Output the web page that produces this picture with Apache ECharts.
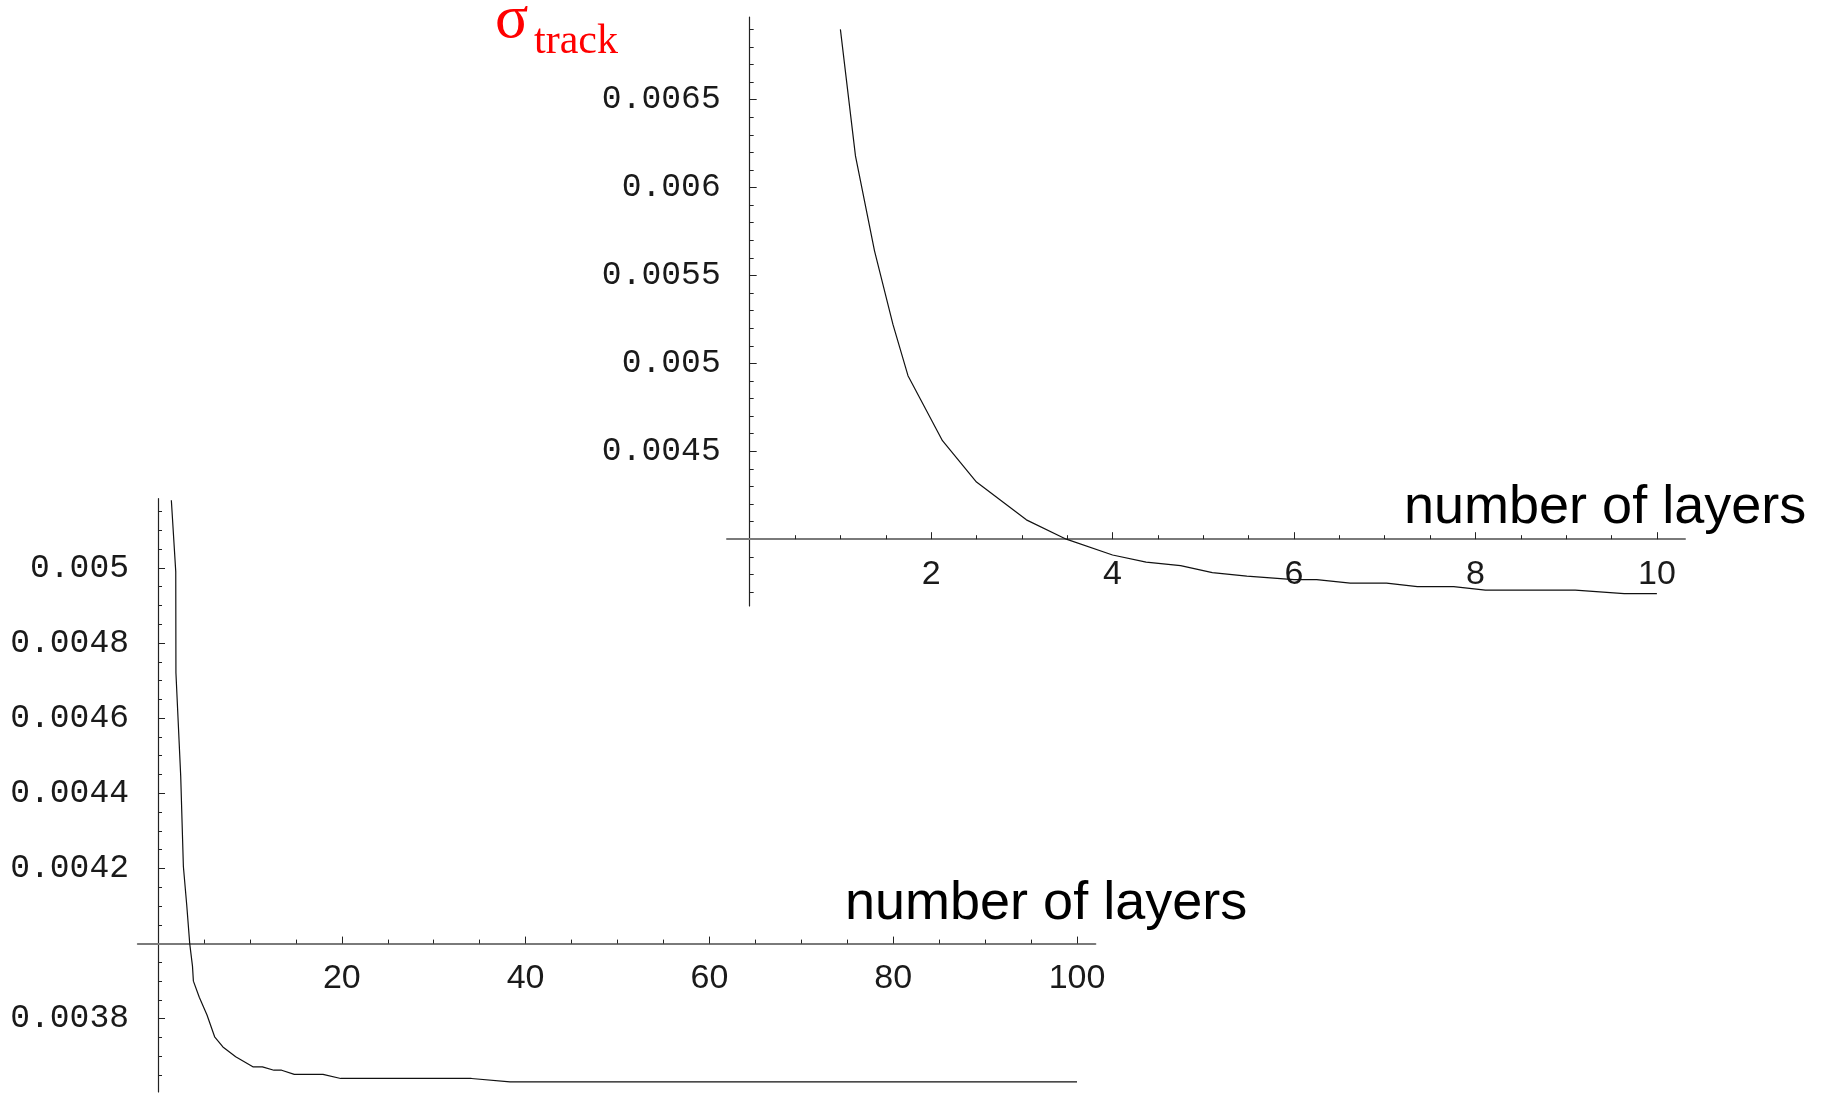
<!DOCTYPE html>
<html><head><meta charset="utf-8">
<script src="https://cdn.jsdelivr.net/npm/echarts@6/dist/echarts.min.js"></script>
<style>html,body{margin:0;padding:0;background:#fff}#c{width:1827px;height:1093px}</style>
</head><body><div id="c"></div>
<script>
// ---- data: sigma_track vs number of layers ----
const topX = [1.0, 1.166, 1.376, 1.58, 1.745, 2.125, 2.5, 3.05, 3.49, 4.0, 4.37, 4.75, 5.1, 5.48, 6.0, 6.25, 6.62, 7.02, 7.36, 7.76, 8.11, 9.1, 9.64, 10.0];
const topY = [0.00690, 0.00618, 0.00564, 0.00522, 0.00493, 0.00456, 0.004325, 0.00411, 0.00400, 0.00391, 0.00387, 0.00385, 0.00381, 0.00379, 0.00377, 0.00377, 0.00375, 0.00375, 0.00373, 0.00373, 0.00371, 0.00371, 0.00369, 0.00369];
const botX = [1.45, 1.93, 1.95, 2.47, 2.76, 3.12, 3.45, 3.75, 3.85, 4.49, 5.33, 6.16, 7.06, 8.45, 10.32, 11.36, 12.61, 13.45, 14.83, 17.95, 19.88, 34.1, 38.3, 100];
const botY = [0.00518, 0.00499, 0.00472, 0.004445, 0.004205, 0.004104, 0.0040, 0.00394, 0.0039, 0.003857, 0.00381, 0.003752, 0.003725, 0.003699, 0.003672, 0.003672, 0.003663, 0.003663, 0.003652, 0.003652, 0.003641, 0.003641, 0.003632, 0.003632];

// ---- tick labels ----
const topXLabels = [2, 4, 6, 8, 10];
const topYLabels = [0.0045, 0.005, 0.0055, 0.006, 0.0065];
const botXLabels = [20, 40, 60, 80, 100];
const botYLabels = [0.0038, 0.0042, 0.0044, 0.0046, 0.0048, 0.005];
const xTitle = 'number of layers';

function steps(from, to, step, exclude) {
  const out = [];
  const n = Math.round((to - from) / step);
  for (let i = 0; i <= n; i++) {
    const v = +(from + i * step).toPrecision(10);
    if (!exclude.some(e => Math.abs(e - v) < step * 1e-3)) out.push(v);
  }
  return out;
}
const topXMinor = steps(0.5, 10, 0.5, topXLabels);
const topYMinor = steps(0.0037, 0.0069, 0.0001, topYLabels.concat([0.004]));
const botXMinor = steps(5, 100, 5, botXLabels);
const botYMinor = steps(0.00365, 0.00515, 0.00005, botYLabels.concat([0.004]));

// ---- layout ----
const P1 = {left: 727, top: 17, width: 958, height: 589, xMin: -0.25, xMax: 10.31, yMin: 0.00362, yMax: 0.00697};
const P2 = {left: 137.8, top: 498.7, width: 957.6, height: 593.3, xMin: -2.2, xMax: 102, yMin: 0.003605, yMax: 0.005184};
const crossY = 0.004, crossX = 0;

const yLabelFont = {fontFamily: 'Liberation Mono', fontSize: 33, color: '#1a1a1a'};
const xLabelFont = {fontFamily: 'Liberation Sans', fontSize: 34, color: '#1a1a1a'};

function axesFor(P, gi, xLab, xMin, yLab, yMin) {
  const xOff = -(crossY - P.yMin) / (P.yMax - P.yMin) * P.height;
  const yOff = -(crossX - P.xMin) / (P.xMax - P.xMin) * P.width;
  const xBase = {type: 'value', gridIndex: gi, min: P.xMin, max: P.xMax, position: 'bottom', offset: xOff,
    splitLine: {show: false}, minorTick: {show: false}, axisPointer: {show: false}};
  const yBase = {type: 'value', gridIndex: gi, min: P.yMin, max: P.yMax, position: 'left', offset: yOff,
    splitLine: {show: false}, minorTick: {show: false}, axisPointer: {show: false}};
  const xs = [
    Object.assign({}, xBase, {
      axisLine: {show: true, onZero: false, lineStyle: {color: '#7a7a7a', width: 2}},
      axisTick: {show: true, inside: true, length: 7, customValues: xLab, lineStyle: {color: '#222', width: 1}},
      axisLabel: Object.assign({show: true, customValues: xLab, margin: 18, formatter: v => String(+v)}, xLabelFont)
    }),
    Object.assign({}, xBase, {
      axisLine: {show: false, onZero: false},
      axisTick: {show: true, inside: true, length: 4, customValues: xMin, lineStyle: {color: '#222', width: 1}},
      axisLabel: {show: false}
    })
  ];
  const ys = [
    Object.assign({}, yBase, {
      axisLine: {show: true, onZero: false, lineStyle: {color: '#222', width: 1.2}},
      axisTick: {show: true, inside: true, length: 7, customValues: yLab, lineStyle: {color: '#222', width: 1}},
      axisLabel: Object.assign({show: true, customValues: yLab, margin: 29, padding: [7, 0, 0, 0],
        formatter: v => String(+(+v).toPrecision(6))}, yLabelFont)
    }),
    Object.assign({}, yBase, {
      axisLine: {show: false, onZero: false},
      axisTick: {show: true, inside: true, length: 4, customValues: yMin, lineStyle: {color: '#222', width: 1}},
      axisLabel: {show: false}
    })
  ];
  return {xs, ys};
}

const a1 = axesFor(P1, 0, topXLabels, topXMinor, topYLabels, topYMinor);
const a2 = axesFor(P2, 1, botXLabels, botXMinor, botYLabels, botYMinor);

const chart = echarts.init(document.getElementById('c'), null, {renderer: 'canvas'});
chart.setOption({
  animation: false,
  backgroundColor: '#ffffff',
  grid: [
    {left: P1.left, top: P1.top, width: P1.width, height: P1.height, containLabel: false},
    {left: P2.left, top: P2.top, width: P2.width, height: P2.height, containLabel: false}
  ],
  xAxis: a1.xs.concat(a2.xs),
  yAxis: a1.ys.concat(a2.ys),
  series: [
    {type: 'line', xAxisIndex: 0, yAxisIndex: 0, data: topX.map((x, i) => [x, topY[i]]),
     showSymbol: false, symbol: 'none', clip: true, lineStyle: {color: '#111', width: 1.2}},
    {type: 'line', xAxisIndex: 2, yAxisIndex: 2, data: botX.map((x, i) => [x, botY[i]]),
     showSymbol: false, symbol: 'none', clip: true, lineStyle: {color: '#111', width: 1.2}}
  ],
  graphic: [
    {type: 'text', x: 1404, y: 508, style: {text: xTitle, font: '54px "Liberation Sans"', fill: '#000', verticalAlign: 'middle', align: 'left'}},
    {type: 'text', x: 845, y: 904, style: {text: xTitle, font: '54px "Liberation Sans"', fill: '#000', verticalAlign: 'middle', align: 'left'}},
    {type: 'text', x: 495, y: 21, style: {text: 'σ', font: '62px "Liberation Serif"', fill: '#ff0000', verticalAlign: 'middle', align: 'left'}},
    {type: 'text', x: 534, y: 42, style: {text: 'track', font: '42px "Liberation Serif"', fill: '#ff0000', verticalAlign: 'middle', align: 'left'}}
  ]
});
</script>
</body></html>
